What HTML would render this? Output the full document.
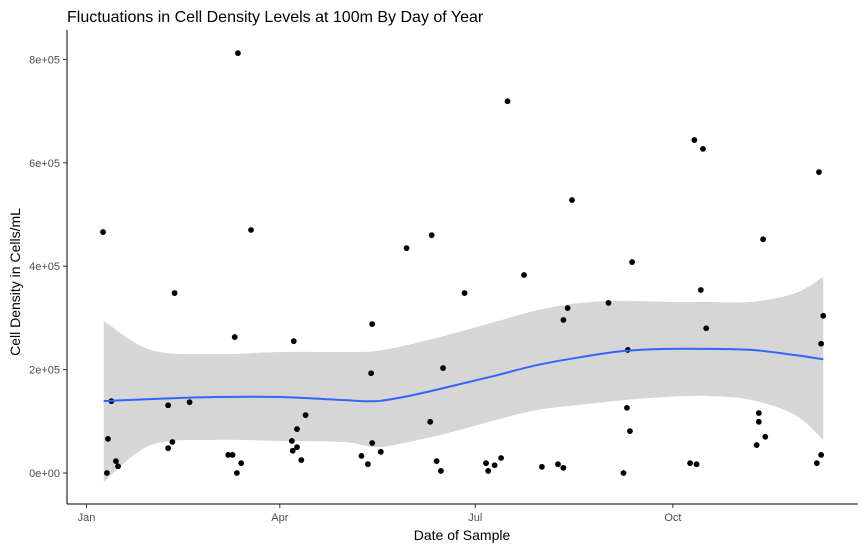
<!DOCTYPE html>
<html><head><meta charset="utf-8"><style>
body{margin:0;background:#fff;}
svg{display:block;font-family:"Liberation Sans",Arial,sans-serif;}
</style></head><body>
<svg id="chart" width="867" height="550">
<text x="67" y="22" font-size="16" fill="#000">Fluctuations in Cell Density Levels at 100m By Day of Year</text>
<text x="462" y="540" font-size="14" text-anchor="middle" fill="#000">Date of Sample</text>
<text transform="translate(20,282) rotate(-90)" font-size="14" text-anchor="middle" fill="#000">Cell Density in Cells/mL</text>
<g id="plot"></g>
</svg>
<script>
const pointDays=[7.7,10,9.5,11.6,13.7,14.7,38,38,40,41,48,66,68,69,70,70.5,72,76.6,95.6,96.5,96,98,98,100,102,128,131,132.5,133,133,137,149,160,160.7,163,165,166,176,186,187,190,193,196,203.7,212,219.5,222,222,224,226,243,250,251.6,252,253,254,281,284,283,286,287,288.5,312,313,313,315,316,340,341,342,342,343];
const pointValues=[466000,66000,0,139000,23000,13000,131000,48000,60000,348000,137000,35000,35000,263000,0,812000,19000,470000,62000,255000,43000,85000,50000,25000,112000,33000,17000,193000,288000,58000,41000,435000,99000,460000,23000,4000,203000,348000,19000,4000,15000,29000,719000,383000,12000,17000,296000,10000,319000,528000,329000,0,126000,238000,81000,408000,19000,17000,644000,354000,627000,280000,54000,116000,99000,452000,70000,19000,582000,35000,250000,304000];
const smoothDays=[8,30,60,90,120,135,150,170,190,210,230,250,270,290,310,330,343];
const smoothFit=[139000,143000,147000,147000,141000,139000,149000,168000,188000,209000,224000,236000,240000,240000,238000,228000,220000];
const smoothUpper=[294000,238000,230000,234000,234000,236000,248000,269000,292000,315000,329000,333000,331000,331000,331000,348000,379000];
const smoothLower=[-17000,54000,64000,62000,60000,50000,60000,79000,102000,122000,132000,141000,147000,149000,141000,112000,64000];
const xTickDays=[0,90,181,273];
const xTickLabels=["Jan","Apr","Jul","Oct"];
const yTickValues=[0,200000,400000,600000,800000];
const yTickLabels=["0e+00","2e+05","4e+05","6e+05","8e+05"];

const X=d=>86.5+d*2.148;
const Y=v=>473-v/1e5*51.7;
const NS="http://www.w3.org/2000/svg";
const g=document.getElementById('plot');
function mk(t,a){const e=document.createElementNS(NS,t);for(const k in a)e.setAttribute(k,a[k]);g.appendChild(e);return e;}
function curve(xs,ys){
  // Catmull-Rom to Bezier
  let d='M'+xs[0]+','+ys[0];
  for(let i=0;i<xs.length-1;i++){
    const x0=xs[Math.max(i-1,0)],y0=ys[Math.max(i-1,0)],x1=xs[i],y1=ys[i],x2=xs[i+1],y2=ys[i+1];
    const x3=xs[Math.min(i+2,xs.length-1)],y3=ys[Math.min(i+2,xs.length-1)];
    d+=' C'+(x1+(x2-x0)/6)+','+(y1+(y2-y0)/6)+' '+(x2-(x3-x1)/6)+','+(y2-(y3-y1)/6)+' '+x2+','+y2;
  }
  return d;
}
const xs=smoothDays.map(X);
const up=curve(xs,smoothUpper.map(Y));
const rx=xs.slice().reverse(), rl=smoothLower.map(Y).reverse();
const lo=curve(rx,rl).replace(/^M/,'L');
const band=mk('path',{d:up+' '+lo+' Z',fill:'#d6d6d6'});



pointDays.forEach((d,i)=>{
  const c=mk('circle',{cx:X(d),cy:Y(pointValues[i]),r:2.9,fill:'#000'});
  
  
});

const line=mk('path',{d:curve(xs,smoothFit.map(Y)),fill:'none',stroke:'#3366ff',"stroke-width":2});



const xa=mk('line',{x1:67,y1:504,x2:858,y2:504,stroke:'#000',"stroke-width":1});


const ya=mk('line',{x1:67,y1:30,x2:67,y2:504,stroke:'#000',"stroke-width":1});



xTickDays.forEach((d,i)=>{
  mk('line',{x1:X(d),y1:504,x2:X(d),y2:508,stroke:'#333'});
  const t=mk('text',{x:X(d),y:521,"font-size":11,fill:'#4d4d4d',"text-anchor":'middle'});
  t.textContent=xTickLabels[i];
  
  
});
yTickValues.forEach((v,i)=>{
  mk('line',{x1:63,y1:Y(v),x2:67,y2:Y(v),stroke:'#333'});
  const t=mk('text',{x:60,y:Y(v)+4,"font-size":11,fill:'#4d4d4d',"text-anchor":'end'});
  t.textContent=yTickLabels[i];
  
  
});
</script>
</body></html>
